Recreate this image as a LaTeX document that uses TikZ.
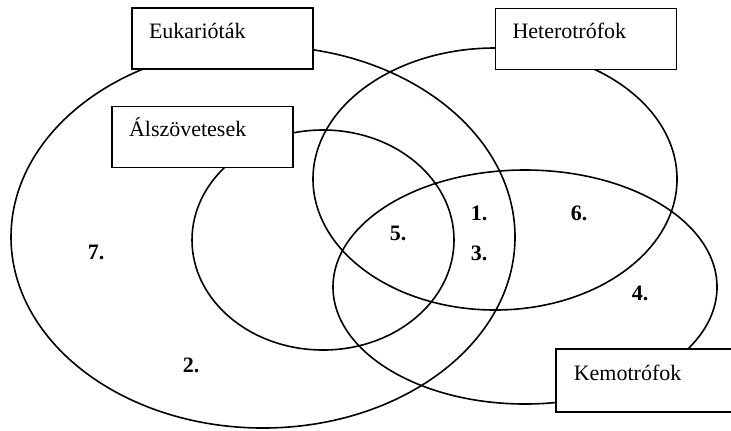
\documentclass[tikz,border=0pt]{standalone}
\usepackage{fontspec}
\setmainfont{Liberation Serif}
\usepackage{tikz}
\usetikzlibrary{positioning}

\begin{document}
\begin{tikzpicture}[x=0.5pt, y=-0.5pt,
    setline/.style={line width=0.8pt},
    namebox/.style={draw, fill=white, line width=0.8pt, rectangle,
      minimum width=90.5pt, text width=73.5pt, align=left,
      inner xsep=8.5pt, inner ysep=0pt, text height=15pt, text depth=15.5pt,
      font=\fontsize{11}{13}\selectfont},
    region/.style={font=\fontsize{11}{13}\selectfont\bfseries}]
  \clip (0,0) rectangle (731,430);

  % the four sets
  \draw[setline] (263,237) ellipse [x radius=252, y radius=191];
  \draw[setline] (495,179) ellipse [x radius=182, y radius=131];
  \draw[setline] (323,240) ellipse [x radius=131, y radius=110];
  \draw[setline] (525,287) ellipse [x radius=192, y radius=117];

  \node[namebox] (euk) at (222.5,38.5) {Eukarióták};
  \node[namebox] (het) at (586,39) {Heterotrófok};
  \node[namebox] (alsz) at (202.5,137) {Álszövetesek};
  % this box runs off the right edge, so it has no right side
  \node[namebox, draw=none, text width=100pt, anchor=west] (kem) at (556,380.5) {Kemotrófok};
  \draw[setline] (kem.north east) -- (kem.north west) -- (kem.south west) -- (kem.south east);

  \node[region] (r1) at (479,213) {1.};
  \node[region] (r2) at (191,365) {2.};
  \node[region] (r3) at (479,253) {3.};
  \node[region] (r4) at (640,293) {4.};
  \node[region] (r5) at (398,233) {5.};
  \node[region] (r6) at (579,213) {6.};
  \node[region] (r7) at (96,252) {7.};
\end{tikzpicture}
\end{document}
